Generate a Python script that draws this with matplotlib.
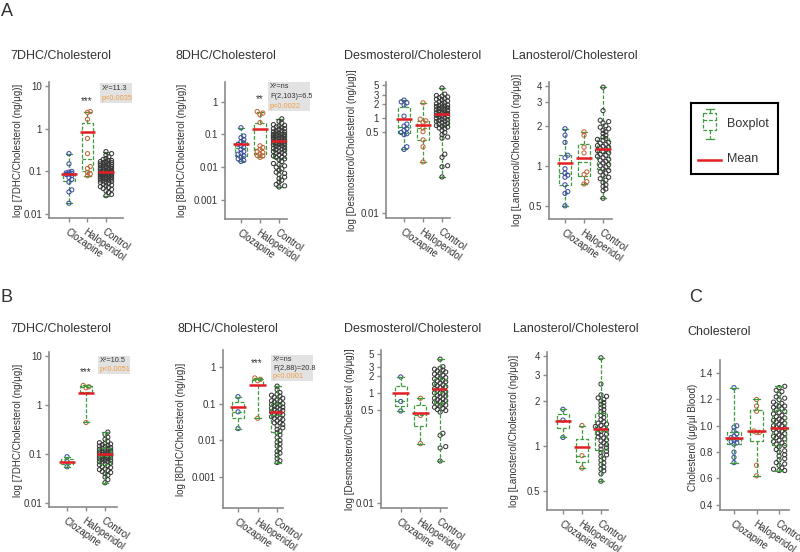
import numpy as np
import matplotlib
matplotlib.use('Agg')
import matplotlib.pyplot as plt
from matplotlib.patches import Rectangle
from matplotlib.ticker import FixedLocator, FixedFormatter, NullLocator

plt.rcParams['font.family'] = ['Liberation Sans', 'DejaVu Sans']

W, H = 800, 552
fig = plt.figure(figsize=(8, 5.52), dpi=100)

groups = ['Clozapine', 'Haloperidol', 'Control']

# ---------------- Row A data ----------------
a_7dhc_cloz = [0.26, 0.15, 0.10, 0.096, 0.092, 0.09, 0.087, 0.085, 0.08, 0.072, 0.065, 0.056, 0.037, 0.033, 0.018]
a_7dhc_halo = [2.5, 2.4, 1.65, 0.59, 0.26, 0.13, 0.117, 0.095, 0.087, 0.079]
a_7dhc_ctrl = [0.29, 0.26, 0.24, 0.22, 0.2, 0.19, 0.18, 0.18, 0.17, 0.17, 0.16, 0.16, 0.155, 0.15, 0.15, 0.145,
               0.14, 0.14, 0.135, 0.13, 0.13, 0.125, 0.12, 0.12, 0.12, 0.115, 0.11, 0.11, 0.11, 0.105, 0.1, 0.1,
               0.1, 0.098, 0.095, 0.095, 0.092, 0.09, 0.09, 0.088, 0.086, 0.085, 0.083, 0.082, 0.08, 0.08, 0.078,
               0.076, 0.075, 0.073, 0.072, 0.07, 0.07, 0.068, 0.066, 0.065, 0.063, 0.062, 0.06, 0.058, 0.056,
               0.055, 0.053, 0.05, 0.048, 0.046, 0.044, 0.042, 0.04, 0.038, 0.035, 0.032, 0.029, 0.027]
a_7dhc_mean = [0.088, 0.84, 0.098]

a_8dhc_cloz = [0.16, 0.09, 0.08, 0.07, 0.06, 0.055, 0.05, 0.045, 0.04, 0.035, 0.03, 0.027, 0.025, 0.022, 0.02,
               0.018, 0.016, 0.015]
a_8dhc_halo = [0.5, 0.45, 0.4, 0.23, 0.045, 0.04, 0.035, 0.03, 0.028, 0.025, 0.023, 0.022, 0.02]
a_8dhc_ctrl = [0.3, 0.25, 0.22, 0.2, 0.19, 0.18, 0.17, 0.16, 0.15, 0.15, 0.14, 0.13, 0.13, 0.12, 0.12, 0.11, 0.11,
               0.1, 0.1, 0.1, 0.095, 0.09, 0.09, 0.085, 0.08, 0.08, 0.078, 0.075, 0.07, 0.07, 0.068, 0.065, 0.06,
               0.06, 0.058, 0.055, 0.052, 0.05, 0.05, 0.048, 0.045, 0.043, 0.04, 0.04, 0.038, 0.036, 0.035, 0.033,
               0.03, 0.03, 0.028, 0.027, 0.025, 0.024, 0.022, 0.02, 0.02, 0.018, 0.017, 0.015, 0.013, 0.012, 0.011,
               0.01, 0.009, 0.008, 0.007, 0.0065, 0.006, 0.005, 0.0045, 0.004, 0.0035, 0.003, 0.0027, 0.0025]
a_8dhc_mean = [0.05, 0.15, 0.063]

a_desmo_cloz = [2.4, 2.2, 2.1, 1.9, 1.1, 0.75, 0.68, 0.6, 0.55, 0.5, 0.47, 0.45, 0.25, 0.22]
a_desmo_halo = [2.1, 0.95, 0.88, 0.82, 0.62, 0.52, 0.35, 0.25, 0.12]
a_desmo_ctrl = [4.3, 3.2, 3.0, 2.9, 2.8, 2.7, 2.6, 2.5, 2.4, 2.3, 2.2, 2.1, 2.0, 2.0, 1.9, 1.85, 1.8, 1.75, 1.7,
                1.65, 1.6, 1.55, 1.5, 1.5, 1.45, 1.4, 1.35, 1.3, 1.3, 1.25, 1.2, 1.2, 1.15, 1.1, 1.1, 1.05, 1.0,
                1.0, 0.95, 0.92, 0.9, 0.87, 0.85, 0.8, 0.78, 0.75, 0.72, 0.7, 0.68, 0.65, 0.62, 0.6, 0.55, 0.5,
                0.45, 0.4, 0.38, 0.175, 0.15, 0.1, 0.095, 0.058]
a_desmo_mean = [0.97, 0.72, 1.23]

a_lano_cloz = [1.9, 1.7, 1.5, 1.2, 1.15, 0.95, 0.88, 0.85, 0.82, 0.72, 0.64, 0.62, 0.5]
a_lano_halo = [1.8, 1.7, 1.38, 1.25, 0.9, 0.86, 0.76, 0.73]
a_lano_ctrl = [3.9, 2.6, 2.2, 2.15, 2.1, 2.0, 1.95, 1.9, 1.85, 1.8, 1.75, 1.7, 1.65, 1.6, 1.58, 1.55, 1.5, 1.48,
               1.45, 1.42, 1.4, 1.38, 1.35, 1.33, 1.3, 1.28, 1.25, 1.22, 1.2, 1.18, 1.15, 1.12, 1.1, 1.08, 1.05,
               1.02, 1.0, 0.98, 0.95, 0.92, 0.9, 0.88, 0.85, 0.82, 0.8, 0.78, 0.75, 0.72, 0.7, 0.67, 0.65, 0.57]
a_lano_mean = [1.05, 1.15, 1.33]

# ---------------- Row B data ----------------
b_7dhc_cloz = [0.088, 0.07, 0.055]
b_7dhc_halo = [2.5, 2.35, 2.25, 0.44]
b_7dhc_ctrl = [0.28, 0.25, 0.22, 0.2, 0.18, 0.17, 0.165, 0.16, 0.155, 0.15, 0.145, 0.14, 0.135, 0.13, 0.13, 0.125,
               0.12, 0.12, 0.115, 0.11, 0.11, 0.108, 0.105, 0.1, 0.1, 0.098, 0.095, 0.093, 0.09, 0.09, 0.088, 0.085,
               0.083, 0.08, 0.08, 0.078, 0.075, 0.073, 0.07, 0.07, 0.068, 0.065, 0.063, 0.06, 0.058, 0.055, 0.053,
               0.05, 0.048, 0.046, 0.044, 0.042, 0.04, 0.037, 0.034, 0.03, 0.026]
b_7dhc_mean = [0.07, 1.73, 0.098]

b_8dhc_cloz = [0.155, 0.06, 0.021]
b_8dhc_halo = [0.5, 0.46, 0.42, 0.04]
b_8dhc_ctrl = [0.3, 0.24, 0.2, 0.18, 0.17, 0.16, 0.15, 0.14, 0.13, 0.12, 0.12, 0.11, 0.1, 0.1, 0.095, 0.09, 0.085,
               0.08, 0.08, 0.075, 0.07, 0.07, 0.065, 0.06, 0.06, 0.055, 0.05, 0.05, 0.047, 0.044, 0.04, 0.04, 0.037,
               0.034, 0.03, 0.03, 0.027, 0.025, 0.022, 0.02, 0.018, 0.016, 0.014, 0.012, 0.01, 0.009, 0.008, 0.007,
               0.006, 0.005, 0.0045, 0.004, 0.0032, 0.0028, 0.0025]
b_8dhc_mean = [0.08, 0.32, 0.061]

b_desmo_cloz = [1.95, 0.7, 0.47]
b_desmo_halo = [0.8, 0.39, 0.12]
b_desmo_ctrl = [4.1, 3.0, 2.8, 2.7, 2.6, 2.5, 2.4, 2.3, 2.2, 2.1, 2.0, 1.9, 1.85, 1.8, 1.7, 1.65, 1.6, 1.5, 1.45,
                1.4, 1.35, 1.3, 1.25, 1.2, 1.15, 1.1, 1.05, 1.0, 1.0, 0.95, 0.9, 0.88, 0.85, 0.8, 0.78, 0.75, 0.72,
                0.7, 0.68, 0.65, 0.62, 0.6, 0.58, 0.55, 0.52, 0.5, 0.48, 0.45, 0.185, 0.17, 0.106, 0.1, 0.058]
b_desmo_mean = [1.0, 0.43, 1.18]

b_lano_cloz = [1.76, 1.49, 1.14]
b_lano_halo = [1.37, 0.86, 0.71]
b_lano_ctrl = [3.9, 2.6, 2.2, 2.15, 2.1, 2.05, 2.0, 1.95, 1.9, 1.85, 1.8, 1.75, 1.7, 1.65, 1.6, 1.55, 1.5, 1.45,
               1.42, 1.4, 1.37, 1.35, 1.32, 1.3, 1.28, 1.25, 1.22, 1.2, 1.18, 1.15, 1.13, 1.1, 1.08, 1.05, 1.02,
               1.0, 0.97, 0.95, 0.92, 0.9, 0.87, 0.85, 0.82, 0.8, 0.77, 0.75, 0.72, 0.7, 0.68, 0.65, 0.58]
b_lano_mean = [1.46, 0.98, 1.3]

c_chol_cloz = [1.29, 1.0, 0.99, 0.96, 0.94, 0.92, 0.91, 0.9, 0.89, 0.88, 0.87, 0.86, 0.8, 0.76, 0.72]
c_chol_halo = [1.2, 1.15, 1.11, 0.96, 0.95, 0.95, 0.7, 0.62]
c_chol_ctrl = [1.3, 1.29, 1.27, 1.26, 1.24, 1.22, 1.21, 1.2, 1.18, 1.17, 1.16, 1.15, 1.15, 1.14, 1.13, 1.12, 1.11,
               1.1, 1.09, 1.08, 1.07, 1.06, 1.05, 1.04, 1.04, 1.03, 1.02, 1.01, 1.0, 1.0, 0.99, 0.98, 0.97, 0.97,
               0.96, 0.95, 0.94, 0.93, 0.92, 0.92, 0.91, 0.9, 0.89, 0.88, 0.87, 0.86, 0.85, 0.84, 0.82, 0.81, 0.8,
               0.78, 0.77, 0.75, 0.74, 0.72, 0.71, 0.7, 0.68, 0.67, 0.66, 0.66]
c_chol_mean = [0.91, 0.96, 0.98]

log_ticks_4 = [0.01, 0.1, 1, 10]
log_labels_4 = ['0.01', '0.1', '1', '10']
log_ticks_8 = [0.001, 0.01, 0.1, 1]
log_labels_8 = ['0.001', '0.01', '0.1', '1']
desmo_ticks = [0.01, 0.5, 1, 2, 3, 5]
desmo_labels = ['0.01', '0.5', '1', '2', '3', '5']
lano_ticks = [0.5, 1, 2, 3, 4]
lano_labels = ['0.5', '1', '2', '3', '4']
chol_ticks = [0.4, 0.6, 0.8, 1.0, 1.2, 1.4]
chol_labels = ['0.4', '0.6', '0.8', '1.0', '1.2', '1.4']

# ---------------- styling ----------------
COL = ['#3d4f9f', '#c0673c', '#3a3a3a']
GREEN = '#3d9a3d'
RED = '#e31e24'
SPINE = '#8a8a8a'
TXT = '#333333'
ORANGE = '#f0a045'


def px_axes(x0, y0, x1, y1):
    return fig.add_axes([x0 / W, 1 - y1 / H, (x1 - x0) / W, (y1 - y0) / H])


def swarm(ax, center, vals, maxw, d=4.0):
    vals = np.asarray(vals, float)
    disp = ax.transData.transform(np.column_stack([np.full(len(vals), center), vals]))
    ypx = disp[:, 1]
    order = np.argsort(ypx)
    step = d * 0.7
    cands = [0.0]
    k = 1
    while k * step <= maxw + 1e-6:
        cands += [k * step, -k * step]
        k += 1
    placed = []
    offs = np.zeros(len(vals))
    thr = d * 0.8
    for i in order:
        y = ypx[i]
        best, bestscore = None, None
        for c in cands:
            score = 0.0
            for (px_, py_) in placed:
                if abs(py_ - y) < thr:
                    dist = np.hypot(px_ - c, py_ - y)
                    if dist < thr:
                        score += thr - dist
            if score == 0:
                best = c
                break
            if bestscore is None or score < bestscore:
                bestscore, best = score, c
        offs[i] = best
        placed.append((best, y))
    v0 = vals[0]
    p0 = ax.transData.transform((0, v0))[0]
    p1 = ax.transData.transform((1, v0))[0]
    return center + offs / (p1 - p0)


def panel(rect, xlim, ylim, log, ticks, labels, data, means, box_on_top):
    ax = px_axes(*rect)
    if log:
        ax.set_yscale('log')
    ax.set_xlim(*xlim)
    ax.set_ylim(*ylim)
    ax.yaxis.set_major_locator(FixedLocator(ticks))
    ax.yaxis.set_major_formatter(FixedFormatter(labels))
    ax.yaxis.set_minor_locator(NullLocator())
    ax.set_xticks([0, 1, 2])
    ax.set_xticklabels(groups, rotation=-35, ha='left', va='top', rotation_mode='anchor',
                       fontsize=7, color=TXT)
    for s in ['top', 'right']:
        ax.spines[s].set_visible(False)
    for s in ['left', 'bottom']:
        ax.spines[s].set_color(SPINE)
        ax.spines[s].set_linewidth(1.2)
    ax.tick_params(axis='both', colors=SPINE, length=3, width=1, labelcolor=TXT, labelsize=7, pad=2)
    ax.tick_params(axis='x', pad=3)
    ax.patch.set_alpha(0)
    bz = 4 if box_on_top else 1.5
    ls = dict(color=GREEN, ls=(0, (3, 1.5)), lw=0.9)
    ax.boxplot(data, positions=[0, 1, 2], widths=0.6, whis=(0, 100), showfliers=False,
               manage_ticks=False, boxprops=ls, whiskerprops=ls, medianprops=ls,
               capprops=dict(color=GREEN, lw=0.9), capwidths=0.35, zorder=bz)
    for i, vals in enumerate(data):
        maxw = 6.0 if i == 2 else 4.5
        xs = swarm(ax, i, vals, maxw)
        ax.scatter(xs, vals, s=9, facecolor='none', edgecolor=COL[i], linewidth=0.75, zorder=3,
                   clip_on=False)
    for i, m in enumerate(means):
        ax.hlines(m, i - 0.42, i + 0.42, color=RED, lw=1.8, zorder=5)
    return ax


def ftext(x, y, s, **kw):
    fig.text(x / W, 1 - y / H, s, **kw)


# Row A
panel((49, 82, 123, 218), (-1.08, 2.92), (10 ** -2.09, 10 ** 1.09), True, log_ticks_4, log_labels_4,
      [a_7dhc_cloz, a_7dhc_halo, a_7dhc_ctrl], a_7dhc_mean, False)
panel((225, 82, 287, 219), (-0.84, 2.42), (10 ** -3.58, 10 ** 0.6), True, log_ticks_8, log_labels_8,
      [a_8dhc_cloz, a_8dhc_halo, a_8dhc_ctrl], a_8dhc_mean, False)
panel((386, 82, 450, 218), (-0.95, 2.42), (10 ** -2.1, 10 ** 0.76), True, desmo_ticks, desmo_labels,
      [a_desmo_cloz, a_desmo_halo, a_desmo_ctrl], a_desmo_mean, False)
panel((549, 82, 612, 219), (-0.84, 2.47), (10 ** -0.4, 10 ** 0.63), True, lano_ticks, lano_labels,
      [a_lano_cloz, a_lano_halo, a_lano_ctrl], a_lano_mean, False)

# Row B
panel((49, 352, 117, 507), (-0.95, 2.63), (10 ** -2.08, 10 ** 1.08), True, log_ticks_4, log_labels_4,
      [b_7dhc_cloz, b_7dhc_halo, b_7dhc_ctrl], b_7dhc_mean, True)
panel((223, 350, 283, 508), (-0.77, 2.3), (10 ** -3.84, 10 ** 0.46), True, log_ticks_8, log_labels_8,
      [b_8dhc_cloz, b_8dhc_halo, b_8dhc_ctrl], b_8dhc_mean, True)
panel((381, 350, 447, 508), (-1.0, 2.35), (10 ** -2.09, 10 ** 0.78), True, desmo_ticks, desmo_labels,
      [b_desmo_cloz, b_desmo_halo, b_desmo_ctrl], b_desmo_mean, True)
panel((547, 352, 608, 510), (-0.84, 2.37), (10 ** -0.43, 10 ** 0.63), True, lano_ticks, lano_labels,
      [b_lano_cloz, b_lano_halo, b_lano_ctrl], b_lano_mean, True)
panel((720, 360, 789, 510), (-0.62, 2.44), (0.36, 1.5), False, chol_ticks, chol_labels,
      [c_chol_cloz, c_chol_halo, c_chol_ctrl], c_chol_mean, True)

# Titles
tkw = dict(fontsize=9, color=TXT, ha='left', va='center')
ftext(10, 56, '7DHC/Cholesterol', **tkw)
ftext(176, 56, '8DHC/Cholesterol', **tkw)
ftext(344, 56, 'Desmosterol/Cholesterol', **tkw)
ftext(512, 56, 'Lanosterol/Cholesterol', **tkw)
ftext(10, 329, '7DHC/Cholesterol', **tkw)
ftext(177, 329, '8DHC/Cholesterol', **tkw)
ftext(344, 329, 'Desmosterol/Cholesterol', **tkw)
ftext(513, 329, 'Lanosterol/Cholesterol', **tkw)
ftext(687, 332, 'Cholesterol', **tkw)

# Panel letters
lkw = dict(fontsize=13, color=TXT, ha='left', va='center')
ftext(1, 12, 'A', **lkw)
ftext(1, 297, 'B', **lkw)
ftext(689, 297, 'C', **lkw)

# Y labels
ykw = dict(fontsize=7, color=TXT, ha='center', va='center', rotation=90)
ftext(18, 150, 'log [7DHC/Cholesterol (ng/μg)]', **ykw)
ftext(182, 150, 'log [8DHC/Cholesterol (ng/μg)]', **ykw)
ftext(352, 150, 'log [Desmosterol/Cholesterol (ng/μg)]', **ykw)
ftext(517, 150, 'log [Lanosterol/Cholesterol (ng/μg)]', **ykw)
ftext(18, 430, 'log [7DHC/Cholesterol (ng/μg)]', **ykw)
ftext(181, 429, 'log [8DHC/Cholesterol (ng/μg)]', **ykw)
ftext(350, 429, 'log [Desmosterol/Cholesterol (ng/μg)]', **ykw)
ftext(514, 431, 'log [Lanosterol/Cholesterol (ng/μg)]', **ykw)
ftext(693, 437, 'Cholesterol (μg/μl Blood)', **ykw)


# Stats boxes
def statbox(x0, y0, x1, y1, lines):
    fig.patches.append(Rectangle((x0 / W, 1 - y1 / H), (x1 - x0) / W, (y1 - y0) / H,
                                 transform=fig.transFigure, facecolor='#e2e2e2', edgecolor='none',
                                 zorder=0))
    n = len(lines)
    for k, (s, c) in enumerate(lines):
        y = y0 + (y1 - y0) * (k + 0.5) / n
        ftext(x0 + 2, y, s, fontsize=5.3, color=c, ha='left', va='center')


statbox(100, 83, 132, 103, [('X²=11.3', TXT), ('p<0.0035', ORANGE)])
statbox(268, 82, 310, 111, [('X²=ns', TXT), ('F(2,103)=6.5', TXT), ('p<0.0022', ORANGE)])
statbox(98, 356, 130, 374, [('X²=10.5', TXT), ('p<0.0051', ORANGE)])
statbox(271, 355, 313, 381, [('X²=ns', TXT), ('F(2,88)=20.8', TXT), ('p<0.0001', ORANGE)])

skw = dict(fontsize=7, color=TXT, ha='center', va='center')
ftext(87, 101, '***', **skw)
ftext(260, 99, '**', **skw)
ftext(86, 372, '***', **skw)
ftext(257, 363, '***', **skw)

# Legend
lg = px_axes(691, 103, 778, 174)
lg.set_xlim(0, 87)
lg.set_ylim(71, 0)
lg.set_xticks([])
lg.set_yticks([])
for s in lg.spines.values():
    s.set_color('black')
    s.set_linewidth(1.5)
dash = (0, (3, 1.5))
lg.add_patch(Rectangle((12, 10), 13, 17, facecolor='none', edgecolor=GREEN, ls=dash, lw=0.9))
lg.plot([12, 25], [17, 17], color=GREEN, ls=dash, lw=0.9)
lg.plot([18.5, 18.5], [6, 10], color=GREEN, ls=dash, lw=0.9)
lg.plot([18.5, 18.5], [27, 36], color=GREEN, ls=dash, lw=0.9)
lg.plot([14.5, 22.5], [6, 6], color=GREEN, lw=0.9)
lg.plot([14.5, 22.5], [36, 36], color=GREEN, lw=0.9)
lg.text(36, 21, 'Boxplot', fontsize=9, color=TXT, ha='left', va='center')
lg.plot([7, 30], [57, 57], color=RED, lw=1.8)
lg.text(36, 56, 'Mean', fontsize=9, color=TXT, ha='left', va='center')

fig.savefig('out.png', dpi=100)
